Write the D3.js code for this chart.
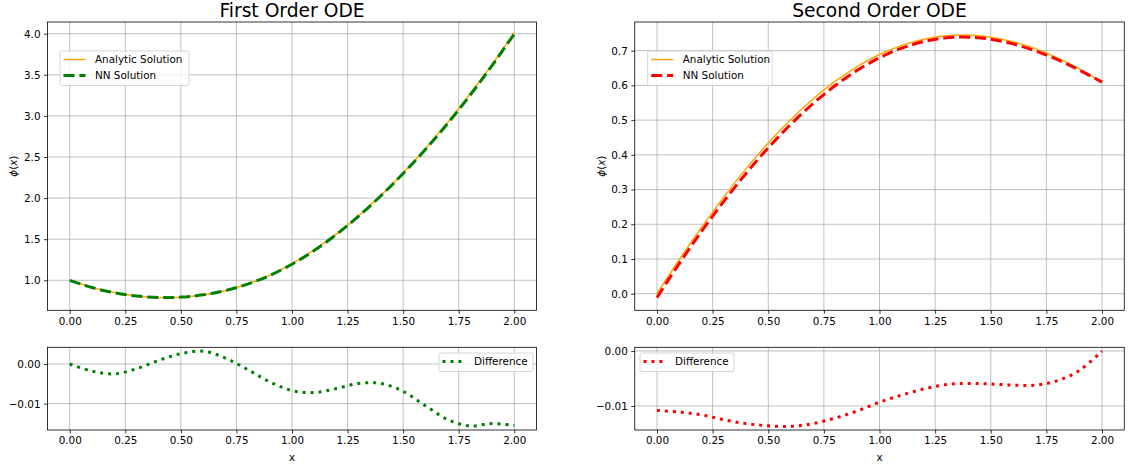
<!DOCTYPE html>
<html>
<head>
<meta charset="utf-8">
<script src="https://cdn.jsdelivr.net/npm/d3@7"></script>
<style>
  body { margin: 0; background: #fff; }
  svg { font-family: "DejaVu Sans", sans-serif; }
</style>
</head>
<body>
<div id="chart"></div>
<script>
// x samples shared by every series
const xs = [0, 0.1, 0.2, 0.3, 0.4, 0.5, 0.6, 0.7, 0.8, 0.9, 1.0,
            1.1, 1.2, 1.3, 1.4, 1.5, 1.6, 1.7, 1.8, 1.9, 2.0];

// first order ODE
const analytic1 = [1.0000, 0.9137, 0.8514, 0.8104, 0.7906, 0.7931, 0.8200, 0.8731, 0.9541, 1.0637, 1.2022,
                   1.3692, 1.5639, 1.7855, 2.0330, 2.3053, 2.6015, 2.9210, 3.2629, 3.6269, 4.0123];
const nn1 = [1.0000, 0.9119, 0.8489, 0.8092, 0.7915, 0.7957, 0.8232, 0.8746, 0.9527, 1.0592, 1.1955,
             1.3620, 1.5577, 1.7806, 2.0281, 2.2984, 2.5910, 2.9070, 3.2473, 3.6119, 3.9968];
const diff1 = [0.0000, -0.0018, -0.0025, -0.0012, 0.0009, 0.0026, 0.0032, 0.0015, -0.0014, -0.0045, -0.0067,
               -0.0072, -0.0062, -0.0049, -0.0049, -0.0069, -0.0105, -0.0140, -0.0156, -0.0150, -0.0155];

// second order ODE
const analytic2 = [0.0000, 0.0979, 0.1909, 0.2783, 0.3595, 0.4338, 0.5008, 0.5601, 0.6113, 0.6543, 0.6889,
                   0.7152, 0.7332, 0.7430, 0.7448, 0.7390, 0.7258, 0.7058, 0.6794, 0.6471, 0.6095];
const nn2 = [-0.0108, 0.0868, 0.1793, 0.2658, 0.3463, 0.4202, 0.4871, 0.5469, 0.5991, 0.6434, 0.6796,
             0.7072, 0.7263, 0.7369, 0.7389, 0.7330, 0.7196, 0.6996, 0.6740, 0.6436, 0.6095];
const diff2 = [-0.0108, -0.0111, -0.0116, -0.0125, -0.0132, -0.0136, -0.0137, -0.0132, -0.0122, -0.0109, -0.0093,
               -0.0080, -0.0069, -0.0061, -0.0059, -0.0060, -0.0062, -0.0062, -0.0054, -0.0035, 0.0000];

const xTicks = [0, 0.25, 0.5, 0.75, 1.0, 1.25, 1.5, 1.75, 2.0];
const yTicks1 = [1.0, 1.5, 2.0, 2.5, 3.0, 3.5, 4.0];
const yTicks2 = [0.0, 0.1, 0.2, 0.3, 0.4, 0.5, 0.6, 0.7];
const diffTicks = [0.0, -0.01];

const titles = ["First Order ODE", "Second Order ODE"];

const W = 1134, H = 469;
const FS = 10.4;

const svg = d3.select("#chart").append("svg")
  .attr("width", W).attr("height", H);

const minus = s => s.replace("-", "\u2212");

function panel(o) {
  const x = d3.scaleLinear().domain([-0.1, 2.1]).range([o.left, o.right]);
  const y = d3.scaleLinear().domain(o.ydom).range([o.bottom, o.top]);
  const g = svg.append("g");

  // grid
  g.append("g").selectAll("line").data(xTicks).join("line")
    .attr("x1", d => x(d)).attr("x2", d => x(d))
    .attr("y1", o.top).attr("y2", o.bottom)
    .attr("stroke", "#b0b0b0").attr("stroke-width", 0.8);
  g.append("g").selectAll("line").data(o.yticks).join("line")
    .attr("x1", o.left).attr("x2", o.right)
    .attr("y1", d => y(d)).attr("y2", d => y(d))
    .attr("stroke", "#b0b0b0").attr("stroke-width", 0.8);

  // axes
  const xa = g.append("g").attr("transform", `translate(0,${o.bottom})`)
    .call(d3.axisBottom(x).tickValues(xTicks).tickSize(3.5).tickPadding(3.5).tickFormat(d3.format(".2f")));
  const ya = g.append("g").attr("transform", `translate(${o.left},0)`)
    .call(d3.axisLeft(y).tickValues(o.yticks).tickSize(3.5).tickPadding(3.5)
      .tickFormat(d => minus(d3.format(o.yfmt)(d))));
  [xa, ya].forEach(a => {
    a.select(".domain").remove();
    a.selectAll("line").attr("stroke", "#000").attr("stroke-width", 0.8);
    a.selectAll("text").attr("font-size", FS).attr("fill", "#000")
      .attr("font-family", "DejaVu Sans");
  });

  const clipId = "clip" + Math.round(o.left) + "_" + Math.round(o.top);
  svg.append("clipPath").attr("id", clipId).append("rect")
    .attr("x", o.left).attr("y", o.top)
    .attr("width", o.right - o.left).attr("height", o.bottom - o.top);

  const line = d3.line().x((d, i) => x(xs[i])).y(d => y(d)).curve(d3.curveCatmullRom);
  const lg = g.append("g").attr("clip-path", `url(#${clipId})`);
  o.series.forEach(s => {
    lg.append("path").datum(s.values)
      .attr("d", line)
      .attr("fill", "none")
      .attr("stroke", s.color)
      .attr("stroke-width", s.width)
      .attr("stroke-dasharray", s.dash || null);
  });

  // frame
  g.append("rect")
    .attr("x", o.left).attr("y", o.top)
    .attr("width", o.right - o.left).attr("height", o.bottom - o.top)
    .attr("fill", "none").attr("stroke", "#000").attr("stroke-width", 0.8);

  // legend
  const L = o.legend;
  const rows = o.series.filter(s => s.label);
  const lgd = g.append("g").attr("transform", `translate(${L.x},${L.y})`);
  lgd.append("rect")
    .attr("width", L.w).attr("height", 2.5 + rows.length * 16)
    .attr("rx", 2).attr("fill", "#fff").attr("fill-opacity", 0.8)
    .attr("stroke", "#cccccc").attr("stroke-width", 0.8);
  rows.forEach((s, i) => {
    const cy = 8.5 + i * 16;
    lgd.append("line")
      .attr("x1", 3.5).attr("x2", 25.5).attr("y1", cy).attr("y2", cy)
      .attr("stroke", s.color).attr("stroke-width", s.width)
      .attr("stroke-dasharray", s.dash || null);
    lgd.append("text").attr("x", 35).attr("y", cy).attr("dy", "0.36em")
      .attr("font-size", FS).text(s.label);
  });

  if (o.title) {
    svg.append("text").attr("x", (o.left + o.right) / 2).attr("y", 17)
      .attr("text-anchor", "middle").attr("font-size", 18.7).text(o.title);
  }
  if (o.ylabel) {
    const t = svg.append("text")
      .attr("transform", `translate(${o.left - 34},${(o.top + o.bottom) / 2}) rotate(-90)`)
      .attr("text-anchor", "middle").attr("dy", "0.36em").attr("font-size", FS);
    t.append("tspan").attr("font-style", "italic").text("\u03d5");
    t.append("tspan").text("(");
    t.append("tspan").attr("font-style", "italic").text("x");
    t.append("tspan").text(")");
  }
  if (o.xlabel) {
    svg.append("text").attr("x", (o.left + o.right) / 2).attr("y", o.bottom + 31)
      .attr("text-anchor", "middle").attr("font-size", FS).text("x");
  }
}

const L1 = 47.5, R1 = 536.5, L2 = 634.75, R2 = 1124.25;
const TT = 22, TB = 310.3, BT = 347.3, BB = 430;

panel({
  left: L1, right: R1, top: TT, bottom: TB,
  ydom: [0.635, 4.142], yticks: yTicks1, yfmt: ".1f",
  title: titles[0], ylabel: true,
  series: [
    { values: analytic1, color: "orange", width: 1.5, label: "Analytic Solution" },
    { values: nn1, color: "green", width: 3, dash: "11.1,4.8", label: "NN Solution" }
  ],
  legend: { x: 60, y: 51, w: 129 }
});
panel({
  left: L2, right: R2, top: TT, bottom: TB,
  ydom: [-0.0478, 0.7826], yticks: yTicks2, yfmt: ".1f",
  title: titles[1], ylabel: true,
  series: [
    { values: analytic2, color: "orange", width: 1.5, label: "Analytic Solution" },
    { values: nn2, color: "red", width: 3, dash: "11.1,4.8", label: "NN Solution" }
  ],
  legend: { x: 647.7, y: 51, w: 124.5 }
});
panel({
  left: L1, right: R1, top: BT, bottom: BB,
  ydom: [-0.01663, 0.0042], yticks: diffTicks, yfmt: ".2f",
  xlabel: true,
  series: [
    { values: diff1, color: "green", width: 3, dash: "3,4.95", label: "Difference" }
  ],
  legend: { x: 439, y: 353, w: 94 }
});
panel({
  left: L2, right: R2, top: BT, bottom: BB,
  ydom: [-0.01436, 0.00067], yticks: diffTicks, yfmt: ".2f",
  xlabel: true,
  series: [
    { values: diff2, color: "red", width: 3, dash: "3,4.95", label: "Difference" }
  ],
  legend: { x: 640, y: 353, w: 94 }
});
</script>
</body>
</html>
